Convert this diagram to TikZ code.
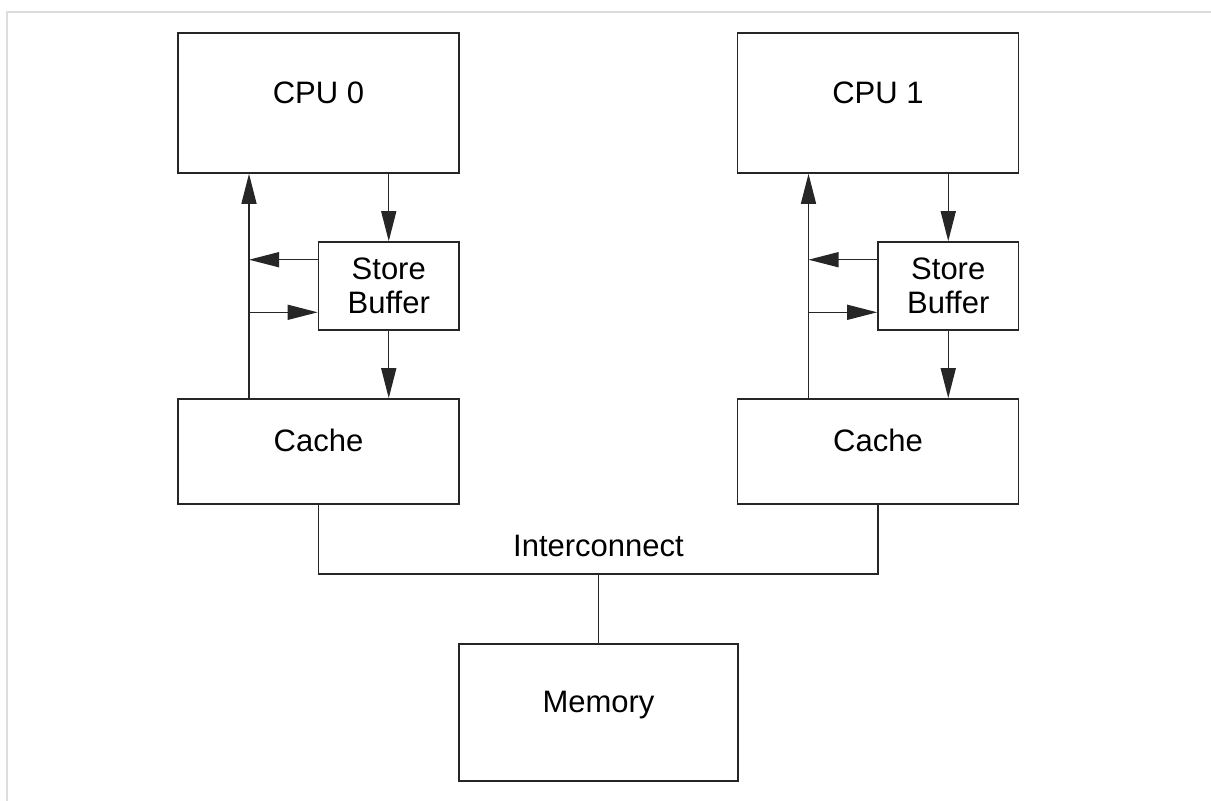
\documentclass[tikz,border=0pt]{standalone}
\usepackage{fontspec}
\setmainfont{Liberation Sans}
\usetikzlibrary{arrows.meta}
\definecolor{framegray}{HTML}{DDDDDD}
\definecolor{linegray}{HTML}{262626}
\tikzset{
  box/.style={draw=linegray, line width=1.6pt, inner sep=0pt, rectangle},
  lbl/.style={inner sep=0pt, font=\fontsize{31}{34.4}\selectfont, text=black},
  conn/.style={draw=linegray, line width=1.4pt},
  arr/.style={conn, -{Triangle[length=30pt,width=15pt]}},
}
\begin{document}
\begin{tikzpicture}[x=1pt,y=-1pt]
\useasboundingbox (0,0) rectangle (1211,801);
\fill[white] (0,0) rectangle (1211,801);
% light frame
\draw[framegray, line width=2.5pt] (7,801) -- (7,12) -- (1211,12);

% CPU 0 side
\node[box, minimum width=281pt, minimum height=140pt] (cpu0) at (318.5,103) {};
\node[lbl, anchor=base] (cpu0t) at (cpu0.center) {CPU 0};
\node[box, minimum width=140.5pt, minimum height=88pt] (sb0) at (388.75,286) {};
\node[lbl, align=center] (sb0t) at (sb0.center) {Store\\Buffer};
\node[box, minimum width=281pt, minimum height=105pt] (cache0) at (318.5,451.5) {};
\node[lbl, anchor=base] (cache0t) at (cache0.center) {Cache};
\coordinate (v0) at (249,300);

% CPU 1 side
\node[box, minimum width=281pt, minimum height=140pt] (cpu1) at (878,103) {};
\node[lbl, anchor=base] (cpu1t) at (cpu1.center) {CPU 1};
\node[box, minimum width=140.5pt, minimum height=88pt] (sb1) at (948.25,286) {};
\node[lbl, align=center] (sb1t) at (sb1.center) {Store\\Buffer};
\node[box, minimum width=281pt, minimum height=105pt] (cache1) at (878,451.5) {};
\node[lbl, anchor=base] (cache1t) at (cache1.center) {Cache};
\coordinate (v1) at (808.5,300);

% Memory
\node[box, minimum width=279pt, minimum height=137pt] (mem) at (598.5,712.5) {};
\node[lbl, anchor=base] (memt) at (mem.center) {Memory};

% arrows, side 0
\draw[arr] (cpu0.south -| sb0.center) -- (sb0.north);
\draw[arr] (sb0.south) -- (cache0.north -| sb0.center);
\draw[arr] (cache0.north -| v0) -- (cpu0.south -| v0);
\draw[arr] ([yshift=26.3pt]sb0.west) -- ([yshift=26.3pt]sb0.west -| v0);
\draw[arr] ([yshift=-26.3pt]sb0.west -| v0) -- ([yshift=-26.3pt]sb0.west);

% arrows, side 1
\draw[arr] (cpu1.south -| sb1.center) -- (sb1.north);
\draw[arr] (sb1.south) -- (cache1.north -| sb1.center);
\draw[arr] (cache1.north -| v1) -- (cpu1.south -| v1);
\draw[arr] ([yshift=26.3pt]sb1.west) -- ([yshift=26.3pt]sb1.west -| v1);
\draw[arr] ([yshift=-26.3pt]sb1.west -| v1) -- ([yshift=-26.3pt]sb1.west);

% interconnect
\coordinate (bus) at (598.5,574);
\draw[conn] (cache0.south) |- (bus) -| (cache1.south);
\draw[conn] (bus) -- (mem.north);
\node[lbl, anchor=base] (ic) at (598.5,556.7) {Interconnect};
\end{tikzpicture}
\end{document}
